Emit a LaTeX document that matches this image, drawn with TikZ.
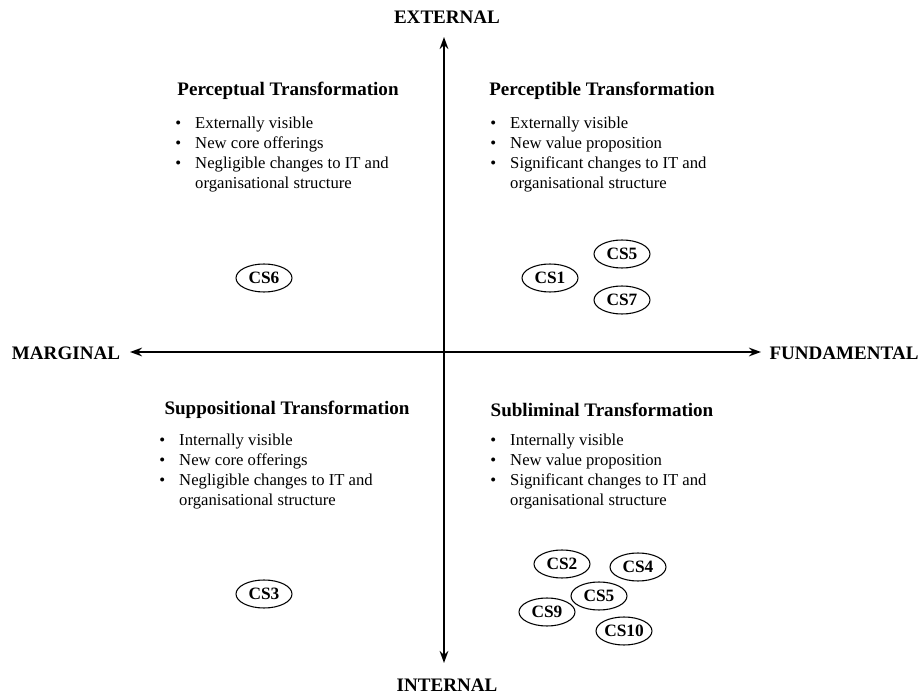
\documentclass[tikz,border=0pt]{standalone}
\usepackage{fontspec}
\setmainfont{Liberation Serif}
\usetikzlibrary{arrows.meta,shapes.geometric}

\tikzset{
    axis/.style={line width=1.5pt, {Stealth[length=9pt,width=6.5pt]}-{Stealth[length=9pt,width=6.5pt]}},
    axislabel/.style={font=\fontsize{14.3}{17}\selectfont\bfseries},
    heading/.style={font=\fontsize{14.3}{17}\selectfont\bfseries},
    items/.style={anchor=north west, inner sep=0pt, font=\fontsize{12.5}{15}\selectfont},
    case/.style={ellipse, draw, line width=0.8pt, minimum width=42pt, minimum height=21pt, inner sep=0pt, font=\fontsize{13}{15}\selectfont\bfseries}
}
\newcommand{\bulletrow}{\textbullet &}

\begin{document}
\begin{tikzpicture}[x=0.75pt,y=-0.75pt]
    \useasboundingbox (0,0) rectangle (922,695);

    \node[axislabel] (external) at (447,17) {EXTERNAL};
    \node[axislabel] (internal) at (447,685) {INTERNAL};
    \node[axislabel] (marginal) at (66,353) {MARGINAL};
    \node[axislabel] (fundamental) at (844,353) {FUNDAMENTAL};

    \coordinate (north) at (444,37);
    \coordinate (south) at (444,663);
    \coordinate (west) at (130,352);
    \coordinate (east) at (761,352);
    \draw[axis] (north) -- (south);
    \draw[axis] (west) -- (east);

    \node[heading] (perceptual) at (288,91) {Perceptual Transformation};
    \node[items] (perceptual items) at (175,114) {\begin{tabular}{@{}l@{\hspace{10.6pt}}l@{}}
        \bulletrow Externally visible\\
        \bulletrow New core offerings\\
        \bulletrow Negligible changes to IT and\\
        & organisational structure
    \end{tabular}};

    \node[heading] (perceptible) at (602,91) {Perceptible Transformation};
    \node[items] (perceptible items) at (490,114) {\begin{tabular}{@{}l@{\hspace{10.6pt}}l@{}}
        \bulletrow Externally visible\\
        \bulletrow New value proposition\\
        \bulletrow Significant changes to IT and\\
        & organisational structure
    \end{tabular}};

    \node[heading] (suppositional) at (287,410) {Suppositional Transformation};
    \node[items] (suppositional items) at (159,431) {\begin{tabular}{@{}l@{\hspace{10.6pt}}l@{}}
        \bulletrow Internally visible\\
        \bulletrow New core offerings\\
        \bulletrow Negligible changes to IT and\\
        & organisational structure
    \end{tabular}};

    \node[heading] (subliminal) at (602,410) {Subliminal Transformation};
    \node[items] (subliminal items) at (490,431) {\begin{tabular}{@{}l@{\hspace{10.6pt}}l@{}}
        \bulletrow Internally visible\\
        \bulletrow New value proposition\\
        \bulletrow Significant changes to IT and\\
        & organisational structure
    \end{tabular}};

    \node[case] (cs6) at (264,278) {CS6};
    \node[case] (cs1) at (550,278) {CS1};
    \node[case] (cs5a) at (622,254) {CS5};
    \node[case] (cs7) at (622,300) {CS7};

    \node[case] (cs3) at (264,594) {CS3};
    \node[case] (cs2) at (562,564) {CS2};
    \node[case] (cs4) at (638,567) {CS4};
    \node[case] (cs5b) at (599,596) {CS5};
    \node[case] (cs9) at (547,612) {CS9};
    \node[case] (cs10) at (624,631) {CS10};
\end{tikzpicture}
\end{document}
